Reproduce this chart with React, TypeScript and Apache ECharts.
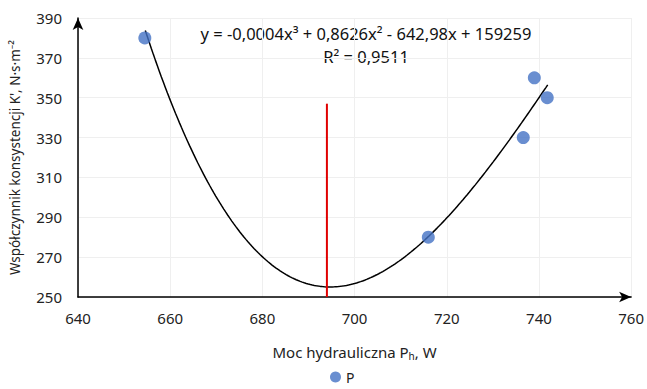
import React, { useEffect, useRef } from "react";
import * as echarts from "echarts";

// measured data points
const pointsX = [654.5, 716, 736.6, 739, 741.8];
const pointsY = [380, 280, 330, 360, 350];
// samples of the 3rd-order trendline
const trendX = [654.6, 660.5, 663.9, 667.5, 672.5, 679.6, 686, 694, 700, 710.1, 716, 718.7, 724, 730.5, 736, 741.9];
const trendY = [380, 350, 330, 310, 290, 270, 260.2, 254.4, 256, 269.4, 279.8, 286, 302, 319.3, 337, 355.5];
const redLineX = 694;
const redLineY = [250, 347];
const xTicks = { min: 640, max: 760, interval: 20 };
const yTicks = { min: 250, max: 390, interval: 20 };
const equationText = "y = -0,0004x³ + 0,8626x² - 642,98x + 159259";
const r2Text = "R² = 0,9511";

// least-squares cubic through the samples (smooths reading noise, like the polynomial trendline)
function fitCubic(xs: number[], ys: number[]) {
  const mean = xs.reduce((a, b) => a + b, 0) / xs.length;
  const sc = 50;
  const n = 4;
  const A: number[][] = Array.from({ length: n }, () => Array(n + 1).fill(0));
  xs.forEach((x, k) => {
    const t = (x - mean) / sc;
    const p = [1, t, t * t, t * t * t];
    for (let i = 0; i < n; i++) {
      for (let j = 0; j < n; j++) A[i][j] += p[i] * p[j];
      A[i][n] += p[i] * ys[k];
    }
  });
  for (let i = 0; i < n; i++) {
    let m = i;
    for (let r = i + 1; r < n; r++) if (Math.abs(A[r][i]) > Math.abs(A[m][i])) m = r;
    [A[i], A[m]] = [A[m], A[i]];
    for (let r = 0; r < n; r++) {
      if (r === i) continue;
      const f = A[r][i] / A[i][i];
      for (let c = i; c <= n; c++) A[r][c] -= f * A[i][c];
    }
  }
  const coef = A.map((row, i) => row[n] / row[i]);
  return (x: number) => {
    const t = (x - mean) / sc;
    return coef[0] + coef[1] * t + coef[2] * t * t + coef[3] * t * t * t;
  };
}

export default function App() {
  const ref = useRef<HTMLDivElement>(null);
  useEffect(() => {
    if (!ref.current) return;
    const chart = echarts.init(ref.current, undefined, { renderer: "svg" });
    const f = fitCubic(trendX, trendY);
    const x0 = trendX[0];
    const x1 = trendX[trendX.length - 1];
    const trend: number[][] = [];
    for (let i = 0; i <= 200; i++) {
      const x = x0 + ((x1 - x0) * i) / 200;
      trend.push([x, f(x)]);
    }
    const font = "'Noto Sans', sans-serif";
    chart.setOption({
      animation: false,
      textStyle: { fontFamily: font },
      grid: { left: 74, right: 15, top: 18, bottom: 92 },
      xAxis: {
        type: "value",
        min: xTicks.min,
        max: xTicks.max,
        interval: xTicks.interval,
        name: "{a|Moc hydrauliczna P}{s|h}{a|, W}",
        nameLocation: "middle",
        nameGap: 45,
        nameTextStyle: {
          rich: {
            a: { fontSize: 15, color: "#222", fontFamily: font },
            s: { fontSize: 10, color: "#222", fontFamily: font, verticalAlign: "bottom", padding: [9, 0, 0, 0] },
          },
        },
        axisLine: { lineStyle: { color: "#000", width: 1.5 }, symbol: ["none", "arrow"], symbolSize: [8, 12] },
        axisTick: { show: false },
        axisLabel: { fontSize: 15, color: "#222", margin: 13 },
        splitLine: { show: true, lineStyle: { color: "#efefef", width: 1 } },
      },
      yAxis: {
        type: "value",
        min: yTicks.min,
        max: yTicks.max,
        interval: yTicks.interval,
        name: "Współczynnik konsystencji K', N·s·m⁻²",
        nameLocation: "middle",
        nameGap: 56,
        nameTextStyle: { fontSize: 13.5, color: "#222" },
        axisLine: { lineStyle: { color: "#000", width: 1.5 }, symbol: ["none", "arrow"], symbolSize: [8, 12] },
        axisTick: { show: false },
        axisLabel: { fontSize: 15, color: "#222", margin: 16 },
        splitLine: { show: true, lineStyle: { color: "#efefef", width: 1 } },
      },
      legend: {
        bottom: 0,
        left: 325,
        data: ["P"],
        icon: "circle",
        itemWidth: 11,
        itemHeight: 11,
        itemGap: 4,
        textStyle: { fontSize: 14, color: "#222" },
      },
      graphic: [
        {
          type: "text",
          x: 366,
          y: 33,
          style: {
            text: equationText,
            fontSize: 16.5,
            fill: "#111",
            fontFamily: font,
            textAlign: "center",
            textVerticalAlign: "middle",
          },
        },
        {
          type: "text",
          x: 366,
          y: 56,
          style: {
            text: r2Text,
            fontSize: 16.5,
            fill: "#111",
            fontFamily: font,
            textAlign: "center",
            textVerticalAlign: "middle",
          },
        },
      ],
      series: [
        {
          name: "trend",
          type: "line",
          data: trend,
          showSymbol: false,
          lineStyle: { color: "#000", width: 1.5 },
          silent: true,
          z: 2,
        },
        {
          name: "red",
          type: "line",
          data: [
            [redLineX, redLineY[0]],
            [redLineX, redLineY[1]],
          ],
          showSymbol: false,
          lineStyle: { color: "#e00000", width: 2 },
          silent: true,
          z: 3,
        },
        {
          name: "P",
          type: "scatter",
          data: pointsX.map((x, i) => [x, pointsY[i]]),
          symbolSize: 13,
          itemStyle: { color: "#4472C4" },
          z: 4,
        },
      ],
    });
    return () => chart.dispose();
  }, []);
  return <div ref={ref} style={{ width: 647, height: 389, position: "absolute", left: 0, top: 0 }} />;
}
